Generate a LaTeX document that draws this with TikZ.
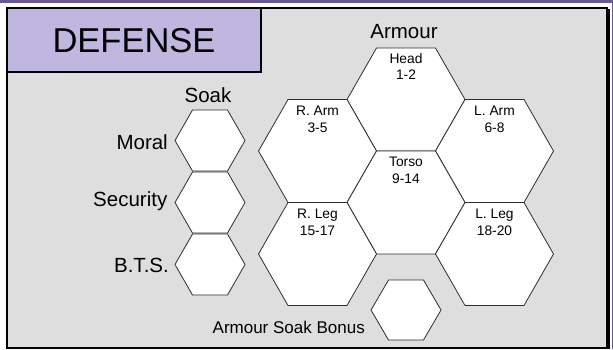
\documentclass[tikz,border=0pt]{standalone}
\usepackage{fontspec}
\setmainfont{Liberation Sans}
\definecolor{framepurple}{HTML}{6A5A8C}
\definecolor{lav}{HTML}{BFB7DF}
\definecolor{bggray}{HTML}{DEDEDE}
\definecolor{hexgray}{HTML}{2E2E2E}
\newcommand\hexg[5]{%
  \draw[hexline] ({#2-#4},#3) -- ({#2-#4/2},{#3-#5}) -- ({#2+#4/2},{#3-#5}) -- ({#2+#4},#3) -- ({#2+#4/2},{#3+#5}) -- ({#2-#4/2},{#3+#5}) -- cycle;
  \coordinate (#1) at (#2,#3);}
\begin{document}
\begin{tikzpicture}[x=1pt,y=-1pt,
  hexline/.style={draw=hexgray,line width=0.8pt,fill=white,line join=miter},
  biglabel/.style={font=\fontsize{20.5}{24}\selectfont,inner sep=0pt},
  hexlabel/.style={font=\fontsize{13.8}{16.8}\selectfont,align=center,inner sep=0pt},
  panel/.style={draw=black,line width=2pt}]
\useasboundingbox (0,0) rectangle (613,349);
\fill[white] (0,0) rectangle (613,349);
\fill[framepurple] (0,0) rectangle (613,2.5);
\fill[framepurple] (611.5,0) rectangle (613,349);
\draw[panel,fill=bggray] (7,8) rectangle (607,347.5);
\draw[black,line width=1.5pt] (609,9) -- (609,348.5);
\draw[panel,fill=lav] (7,8) rectangle (261,72);
\node[font=\fontsize{34.5}{40}\selectfont,inner sep=0pt] (title) at (134,41) {DEFENSE};
% soak column
\node[biglabel] (soak) at (208,95) {Soak};
\hexg{moralhex}{210}{140.5}{35}{30.5}
\hexg{sechex}{210}{202.5}{35}{30.5}
\hexg{btshex}{210}{264.5}{35}{30.5}
\node[biglabel,anchor=east] (moral) at (168,142) {Moral};
\node[biglabel,anchor=east] (security) at (167.5,201) {Security};
\node[biglabel,anchor=east] (bts) at (169,265) {B.T.S.};
% armour cluster
\node[biglabel] (armour) at (404,32) {Armour};
\hexg{head}{406}{99.5}{59}{51.5}
\hexg{rarm}{317.5}{151}{59}{51.5}
\hexg{larm}{494.5}{151}{59}{51.5}
\hexg{torso}{406}{202.5}{59}{51.5}
\hexg{rleg}{317.5}{254}{59}{51.5}
\hexg{lleg}{494.5}{254}{59}{51.5}
\node[hexlabel] (headl) at ([yshift=33pt]head) {Head\\1-2};
\node[hexlabel] (rarml) at ([yshift=31.5pt]rarm) {R. Arm\\3-5};
\node[hexlabel] (larml) at ([yshift=31.5pt]larm) {L. Arm\\6-8};
\node[hexlabel] (torsol) at ([yshift=32pt]torso) {Torso\\9-14};
\node[hexlabel] (rlegl) at ([yshift=31.5pt]rleg) {R. Leg\\15-17};
\node[hexlabel] (llegl) at ([yshift=31.5pt]lleg) {L. Leg\\18-20};
% bonus
\hexg{bonushex}{406}{310}{35}{30}
\node[font=\fontsize{17}{20}\selectfont,inner sep=0pt,anchor=east] (bonus) at (365,327) {Armour Soak Bonus};
\end{tikzpicture}
\end{document}
